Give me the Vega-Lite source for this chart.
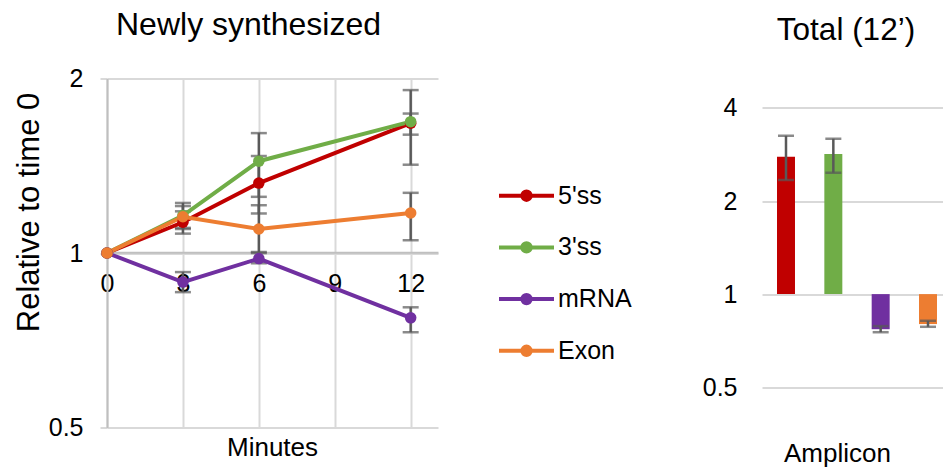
{
  "$schema": "https://vega.github.io/schema/vega-lite/v6.json",
  "padding": {"left": 13, "top": 8.5, "right": 0, "bottom": 0},
  "bounds": "flush",
  "spacing": 324,
  "config": {
    "font": "Liberation Sans",
    "view": {"stroke": null},
    "axis": {"labelFont": "Liberation Sans", "titleFont": "Liberation Sans", "labelColor": "#000000", "titleColor": "#000000", "titleFontWeight": "normal"},
    "title": {"font": "Liberation Sans", "fontWeight": "normal", "color": "#000000"}
  },
  "datasets": {
    "lines": [
      {"series": "5'ss", "minute": 0, "value": 1},
      {"series": "5'ss", "minute": 3, "value": 1.13},
      {"series": "5'ss", "minute": 6, "value": 1.32},
      {"series": "5'ss", "minute": 12, "value": 1.675},
      {"series": "3'ss", "minute": 0, "value": 1},
      {"series": "3'ss", "minute": 3, "value": 1.16},
      {"series": "3'ss", "minute": 6, "value": 1.44},
      {"series": "3'ss", "minute": 12, "value": 1.685},
      {"series": "mRNA", "minute": 0, "value": 1},
      {"series": "mRNA", "minute": 3, "value": 0.891},
      {"series": "mRNA", "minute": 6, "value": 0.978},
      {"series": "mRNA", "minute": 12, "value": 0.773},
      {"series": "Exon", "minute": 0, "value": 1},
      {"series": "Exon", "minute": 3, "value": 1.155},
      {"series": "Exon", "minute": 6, "value": 1.1},
      {"series": "Exon", "minute": 12, "value": 1.172}
    ],
    "errs": [
      {"series": "5'ss", "minute": 3, "lo": 1.08, "hi": 1.18},
      {"series": "5'ss", "minute": 6, "lo": 1.17, "hi": 1.47},
      {"series": "5'ss", "minute": 12, "lo": 1.42, "hi": 1.91},
      {"series": "3'ss", "minute": 3, "lo": 1.1, "hi": 1.22},
      {"series": "3'ss", "minute": 6, "lo": 1.25, "hi": 1.61},
      {"series": "3'ss", "minute": 12, "lo": 1.6, "hi": 1.74},
      {"series": "mRNA", "minute": 3, "lo": 0.856, "hi": 0.927},
      {"series": "mRNA", "minute": 6, "lo": 0.96, "hi": 1.0},
      {"series": "mRNA", "minute": 12, "lo": 0.73, "hi": 0.806},
      {"series": "Exon", "minute": 3, "lo": 1.105, "hi": 1.205},
      {"series": "Exon", "minute": 6, "lo": 1.004, "hi": 1.209},
      {"series": "Exon", "minute": 12, "lo": 1.052, "hi": 1.27}
    ],
    "bars": [
      {"series": "5'ss", "value": 2.78, "lo": 2.34, "hi": 3.25},
      {"series": "3'ss", "value": 2.84, "lo": 2.47, "hi": 3.18},
      {"series": "mRNA", "value": 0.77, "lo": 0.753, "hi": 0.788},
      {"series": "Exon", "value": 0.8, "lo": 0.784, "hi": 0.82}
    ]
  },
  "hconcat": [
    {
      "width": 331,
      "height": 349,
      "title": {"text": "Newly synthesized", "fontSize": 32, "frame": "group", "anchor": "middle", "dx": -24, "baseline": "alphabetic", "offset": -0.7},
      "data": {"name": "lines"},
      "layer": [
        {
          "data": {"name": "errs"},
          "mark": {"type": "errorbar", "color": "#595959", "ticks": {"size": 16, "thickness": 2.5, "color": "#595959"}, "rule": {"strokeWidth": 2.5, "color": "#595959"}},
          "encoding": {
            "x": {"field": "minute", "type": "quantitative", "scale": {"domain": [0, 13.08], "nice": false, "zero": false},
                  "axis": {"values": [0, 3, 6, 9, 12], "grid": true, "gridColor": "#d9d9d9", "gridWidth": 2, "offset": -175.3, "domainColor": "#bfbfbf", "domainWidth": 2, "ticks": false, "labelFontSize": 25, "labelPadding": 19, "labelFlush": false, "title": "Minutes", "titleFontSize": 26, "titleBaseline": "alphabetic", "titleX": 165, "titleY": 203.3}},
            "y": {"field": "lo", "type": "quantitative", "scale": {"type": "log", "domain": [0.5, 2], "nice": false},
                  "axis": {"values": [0.5, 1, 2], "format": "~g", "grid": true, "gridColor": "#d9d9d9", "gridWidth": 2, "tickSize": 7, "tickColor": "#d9d9d9", "tickWidth": 2, "domainColor": "#bfbfbf", "domainWidth": 2, "labelFontSize": 25, "labelPadding": 17, "title": "Relative to time 0", "titleFontSize": 31, "titleBaseline": "alphabetic", "titleAngle": 270, "titleX": -68.7, "titleY": 133.5}},
            "y2": {"field": "hi"}
          }
        },
        {
          "mark": {"type": "line", "strokeWidth": 4},
          "encoding": {
            "x": {"field": "minute", "type": "quantitative", "scale": {"domain": [0, 13.08], "nice": false, "zero": false}},
            "y": {"field": "value", "type": "quantitative", "scale": {"type": "log", "domain": [0.5, 2], "nice": false}},
            "color": {"field": "series", "type": "nominal",
                      "scale": {"domain": ["5'ss", "3'ss", "mRNA", "Exon"], "range": ["#C00000", "#70AD47", "#7030A0", "#ED7D31"]},
                      "legend": {"orient": "none", "legendX": 390, "legendY": 87.7, "title": null, "padding": 0,
                                 "symbolType": "M-1,0H1M-0.153,0A0.153,0.153,0,1,0,0.153,0A0.153,0.153,0,1,0,-0.153,0Z",
                                 "symbolSize": 3025, "symbolStrokeWidth": 4, "labelFontSize": 25, "labelOffset": 2, "rowPadding": 8.7, "labelColor": "#000000",
                                 "encode": {"symbols": {"update": {"fill": {"scale": "color", "field": "value"}, "stroke": {"scale": "color", "field": "value"}, "strokeWidth": {"value": 4}, "opacity": {"value": 1}}}}}},
            "order": {"field": "minute"}
          }
        },
        {
          "mark": {"type": "point", "filled": true, "size": 133, "opacity": 1},
          "encoding": {
            "x": {"field": "minute", "type": "quantitative", "scale": {"domain": [0, 13.08], "nice": false, "zero": false}},
            "y": {"field": "value", "type": "quantitative", "scale": {"type": "log", "domain": [0.5, 2], "nice": false}},
            "color": {"field": "series", "type": "nominal"}
          }
        }
      ]
    },
    {
      "width": 190,
      "height": 308.7,
      "title": {"text": "Total (12’)", "fontSize": 31.5, "frame": "group", "anchor": "middle", "dx": -11, "baseline": "alphabetic", "offset": 7.3},
      "data": {"name": "bars"},
      "layer": [
        {
          "mark": {"type": "bar"},
          "encoding": {
            "x": {"field": "series", "type": "nominal", "sort": ["5'ss", "3'ss", "mRNA", "Exon"],
                  "scale": {"paddingInner": 0.62, "paddingOuter": 0.317},
                  "axis": {"labels": false, "ticks": false, "domain": false, "title": "Amplicon", "titleFontSize": 26, "titleBaseline": "alphabetic", "titleX": 75, "titleY": 74}},
            "y": {"field": "value", "type": "quantitative", "scale": {"type": "log", "domain": [0.5, 4.98], "nice": false},
                  "axis": {"values": [0.5, 1, 2, 4], "format": "~g", "grid": true, "gridColor": "#d9d9d9", "gridWidth": 2, "ticks": false, "domain": false, "labelFontSize": 25, "labelPadding": 25, "title": null}},
            "y2": {"datum": 1},
            "color": {"field": "series", "type": "nominal", "legend": null}
          }
        },
        {
          "mark": {"type": "errorbar", "color": "#595959", "ticks": {"size": 16, "thickness": 2.5, "color": "#595959"}, "rule": {"strokeWidth": 2.5, "color": "#595959"}},
          "encoding": {
            "x": {"field": "series", "type": "nominal", "sort": ["5'ss", "3'ss", "mRNA", "Exon"]},
            "y": {"field": "lo", "type": "quantitative"},
            "y2": {"field": "hi"}
          }
        }
      ]
    }
  ]
}
